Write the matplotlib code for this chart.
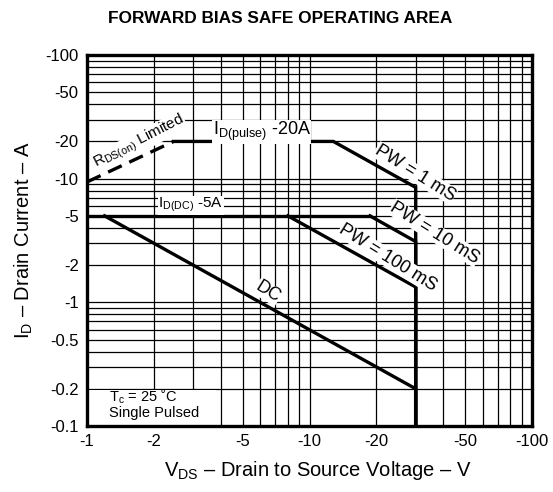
import matplotlib.pyplot as plt
from matplotlib.ticker import LogLocator, FixedLocator, NullFormatter
from matplotlib.patches import Rectangle
import numpy as np

plt.rcParams['font.family'] = ['Liberation Sans', 'DejaVu Sans']
plt.rcParams['mathtext.fontset'] = 'custom'
plt.rcParams['mathtext.rm'] = 'Liberation Sans'
plt.rcParams['mathtext.it'] = 'Liberation Sans:italic'

# data (magnitudes, the axes are drawn as negative values)
rds_v = [1.0, 2.45]
rds_i = [9.4, 20.0]

pulse_v = [2.45, 12.8, 30.0, 30.0]
pulse_i = [20.0, 20.0, 8.5, 0.1]

dc_limit_v = [1.0, 18.7]
dc_limit_i = [5.0, 5.0]

pw10_v = [18.7, 30.0, 30.0]
pw10_i = [5.0, 3.1, 0.1]

pw100_v = [8.0, 30.0, 30.0]
pw100_i = [5.0, 1.33, 0.1]

dc_v = [1.2, 30.0, 30.0]
dc_i = [5.0, 0.2, 0.1]

x_ticks = [1, 2, 5, 10, 20, 50, 100]
x_labels = ['-1', '-2', '-5', '-10', '-20', '-50', '-100']
y_ticks = [0.1, 0.2, 0.5, 1, 2, 5, 10, 20, 50, 100]
y_labels = ['-0.1', '-0.2', '-0.5', '-1', '-2', '-5', '-10', '-20', '-50', '-100']

fig = plt.figure(figsize=(5.53, 4.92), dpi=100)
ax = fig.add_axes([87 / 553, 1 - 426 / 492, 445 / 553, 371 / 492])

ax.set_xscale('log')
ax.set_yscale('log')
ax.set_xlim(1, 100)
ax.set_ylim(0.1, 100)

# grid
ax.xaxis.set_minor_locator(LogLocator(base=10, subs=np.arange(2, 10)))
ax.yaxis.set_minor_locator(LogLocator(base=10, subs=np.arange(2, 10)))
ax.xaxis.set_minor_formatter(NullFormatter())
ax.yaxis.set_minor_formatter(NullFormatter())
ax.grid(which='both', color='black', lw=0.9)
ax.set_axisbelow(True)

ax.xaxis.set_major_locator(FixedLocator(x_ticks))
ax.yaxis.set_major_locator(FixedLocator(y_ticks))
ax.set_xticklabels(x_labels)
ax.set_yticklabels(y_labels)
ax.tick_params(which='both', length=0, labelsize=12, pad=6)

for s in ax.spines.values():
    s.set_linewidth(2.4)

lw = 2.4
ax.plot(rds_v, rds_i, color='black', lw=lw, ls=(0, (4.5, 2.5)), zorder=4)
ax.plot(pulse_v, pulse_i, color='black', lw=lw, solid_joinstyle='miter')
ax.plot(dc_limit_v, dc_limit_i, color='black', lw=lw)
ax.plot(pw10_v, pw10_i, color='black', lw=lw)
ax.plot(pw100_v, pw100_i, color='black', lw=lw)
ax.plot(dc_v, dc_i, color='black', lw=lw)

box = dict(facecolor='white', edgecolor='none', pad=0.3)
kw = dict(ha='center', va='center', bbox=box)
ax.text(1.72, 19.8, r'R$\mathregular{_{DS(on)}}$ Limited', rotation=27, fontsize=11, **kw)
ax.text(6.1, 24.0, r'I$\mathregular{_{D(pulse)}}$ -20A', fontsize=13, **kw)
ax.text(2.93, 6.1, r'I$\mathregular{_{D(DC)}}$ -5A', fontsize=11, **kw)
ax.text(29.8, 11.1, 'PW = 1 mS', rotation=-32, fontsize=13, **kw)
ax.text(36.6, 3.64, 'PW = 10 mS', rotation=-32, fontsize=13, **kw)
ax.text(22.5, 2.29, 'PW = 100 mS', rotation=-32, fontsize=13, **kw)
ax.text(6.5, 1.21, 'DC', rotation=-32, fontsize=13, **kw)

# white field behind the case temperature note
ax.add_patch(Rectangle((0.004, 0.004), 0.286, 0.093, transform=ax.transAxes,
                       facecolor='white', edgecolor='none', zorder=1))
ax.text(0.05, 0.017, 'T$\\mathregular{_c}$ = 25 \u02daC\nSingle Pulsed', transform=ax.transAxes,
        ha='left', va='bottom', fontsize=10.5, linespacing=1.0, zorder=2)

ax.set_xlabel(r'V$\mathregular{_{DS}}$ – Drain to Source Voltage – V', fontsize=14.5)
ax.xaxis.set_label_coords(0.519, -0.09)
ax.set_ylabel(r'I$\mathregular{_D}$ – Drain Current – A', fontsize=14.5)
ax.yaxis.set_label_coords(-0.117, 0.5)
fig.text(0.507, 0.963, 'FORWARD BIAS SAFE OPERATING AREA', ha='center', va='center',
         fontsize=12.4, fontweight='bold')

fig.savefig('out.png', dpi=100)
